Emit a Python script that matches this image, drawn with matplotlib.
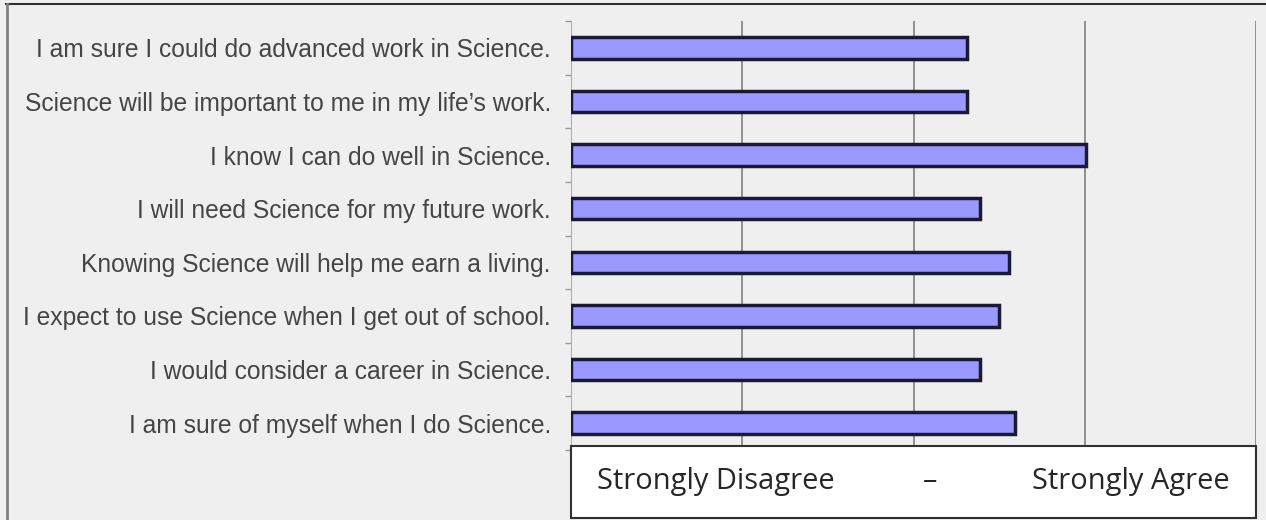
import numpy as np
import matplotlib
matplotlib.use('Agg')
import matplotlib.pyplot as plt
from matplotlib.patches import Rectangle
from matplotlib.lines import Line2D

statements = ["I am sure I could do advanced work in Science.",
              "Science will be important to me in my life\u2019s work.",
              "I know I can do well in Science.",
              "I will need Science for my future work.",
              "Knowing Science will help me earn a living.",
              "I expect to use Science when I get out of school.",
              "I would consider a career in Science.",
              "I am sure of myself when I do Science."]
scores = [3.31, 3.31, 4.01, 3.39, 3.56, 3.50, 3.39, 3.59]
scale_labels = ["Strongly Disagree", "\u2013", "Strongly Agree"]

bg = '#efefef'
fig = plt.figure(figsize=(12.66, 5.2), dpi=100, facecolor=bg)
ax = fig.add_axes([571/1266, 1-450/520, (1256-571)/1266, (450-21)/520])
ax.set_facecolor(bg)

y = np.arange(len(statements))
ax.barh(y, np.array(scores) - 1, left=1, height=0.4,
        color='#9999ff', edgecolor='#1a1a36', linewidth=2.5, zorder=3)

ax.set_xlim(1, 5)
ax.set_ylim(len(statements) - 0.5, -0.5)
for gx in [2, 3, 4, 5]:
    ax.axvline(gx, color='#8a8a8a', linewidth=1.3, zorder=1)

ax.set_yticks(y)
ax.set_yticklabels(statements, fontsize=17.7, color='#454545', family='Liberation Sans')
ax.tick_params(axis='y', which='major', length=0, pad=14.5)
ax.set_yticks(np.arange(-0.5, len(statements)), minor=True)
ax.tick_params(axis='y', which='minor', length=4, color='#9a9a9a', width=1)
ax.set_xticks([])
for s in ['top', 'right', 'bottom']:
    ax.spines[s].set_visible(False)
ax.spines['left'].set_color('#b0b0b0')

# scale box under the bars
x0, x1 = 571/1266, 1256/1266
y0, y1 = 1-518/520, 1-446/520
fig.patches.append(Rectangle((x0, y0), x1-x0, y1-y0, transform=fig.transFigure,
                             facecolor='white', edgecolor='#303030', linewidth=1.5, zorder=10))
ty = 1-482/520
fig.text(597/1266, ty, scale_labels[0], ha='left', va='center', fontsize=20.9,
         family='Open Sans', color='#262626', zorder=11)
fig.text(930/1266, ty, scale_labels[1], ha='center', va='center', fontsize=20.9,
         family='Open Sans', color='#262626', zorder=11)
fig.text(1230/1266, ty, scale_labels[2], ha='right', va='center', fontsize=20.9,
         family='Open Sans', color='#262626', zorder=11)

# outer frame
fig.lines.append(Line2D([6/1266, 1], [1-4/520, 1-4/520], transform=fig.transFigure,
                        color='#303030', linewidth=1.5))
fig.lines.append(Line2D([7/1266, 7/1266], [0, 1-4/520], transform=fig.transFigure,
                        color='#808080', linewidth=2))

fig.savefig('out.png', dpi=100, facecolor=bg)
